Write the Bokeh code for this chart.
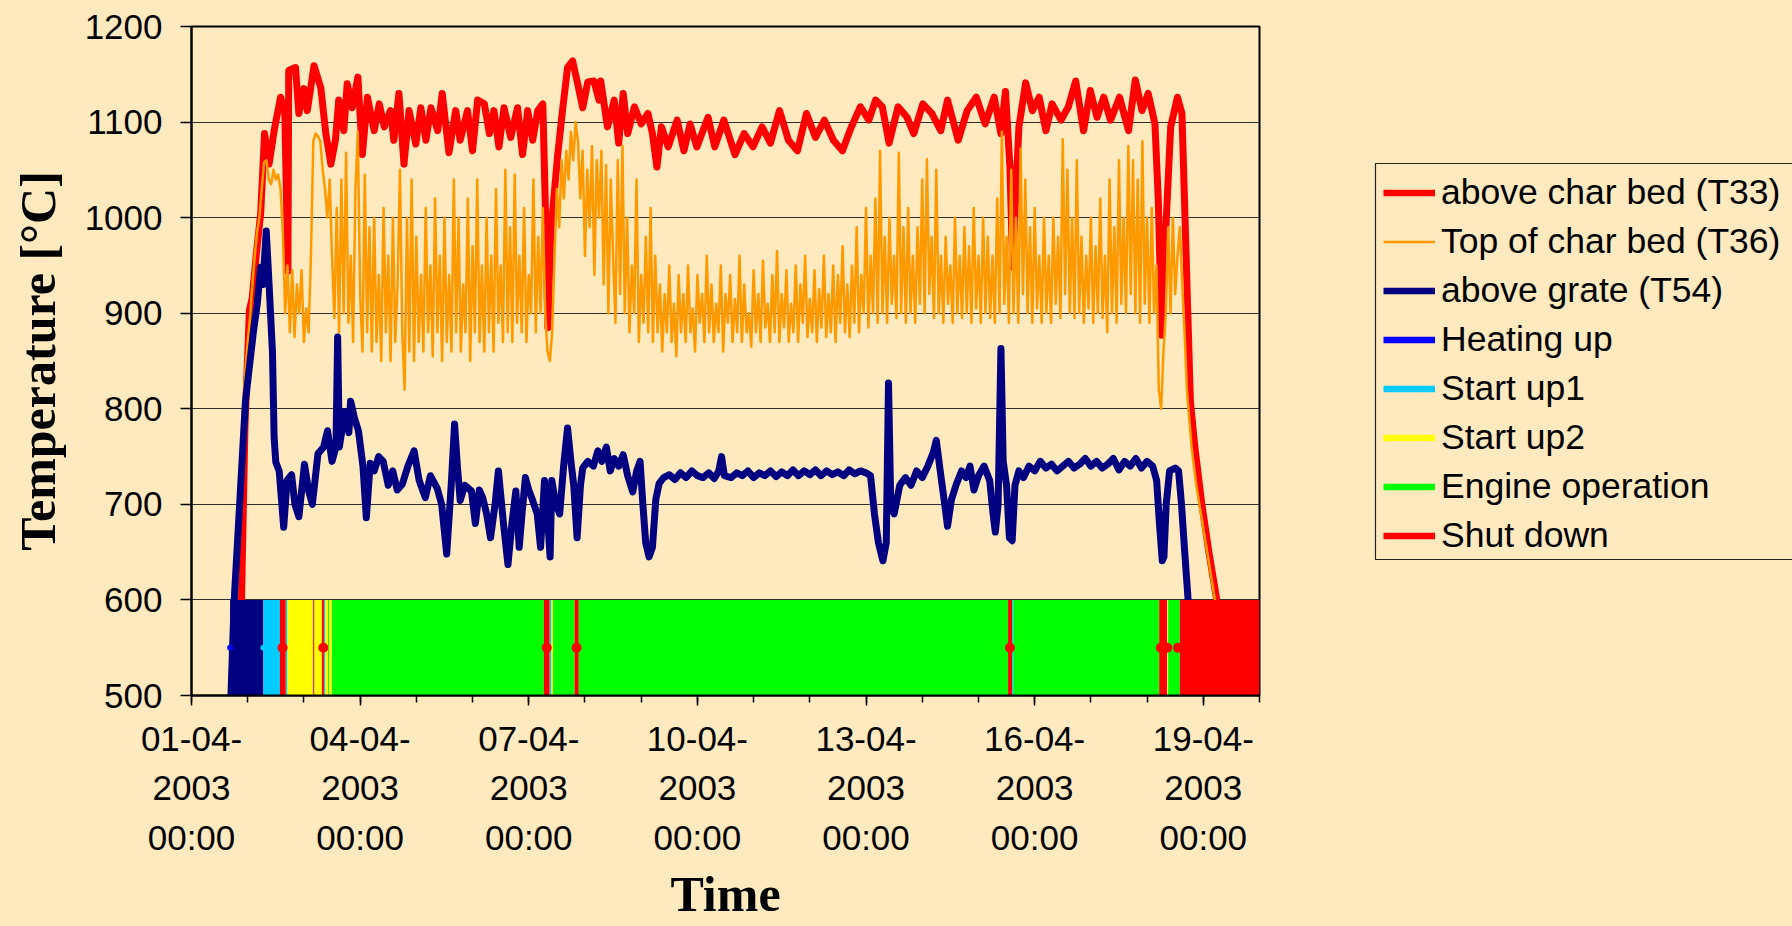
from bokeh.plotting import figure
from bokeh.layouts import row
from bokeh.models import FixedTicker, Legend, LegendItem, Range1d
from bokeh.embed import file_html
from bokeh.resources import INLINE

# ---------------- data (time in days after 01-04-2003 00:00) ----------------
T33_DAY = [0.69, 0.89, 0.95, 1.03, 1.08, 1.15, 1.23, 1.30, 1.38, 1.47, 1.585, 1.66, 1.70, 1.715, 1.73,
           1.85, 1.91, 2.0, 2.06, 2.18, 2.30, 2.39, 2.48, 2.56, 2.62, 2.71, 2.77, 2.86, 2.96, 3.04,
           3.13, 3.25, 3.34, 3.43, 3.54, 3.60, 3.69, 3.78, 3.87, 3.99, 4.08, 4.17, 4.26, 4.38, 4.46,
           4.58, 4.70, 4.78, 4.91, 5.0, 5.09, 5.21, 5.30, 5.38, 5.47, 5.56, 5.68, 5.80, 5.89, 5.98,
           6.07, 6.16, 6.25, 6.30, 6.34, 6.39, 6.51, 6.60, 6.69, 6.78, 6.87, 6.96, 7.05, 7.16, 7.25,
           7.28, 7.40, 7.52, 7.60, 7.68, 7.76, 7.88, 8.0, 8.12, 8.2, 8.28, 8.36, 8.48, 8.64, 8.76,
           8.87, 8.99, 9.19, 9.31, 9.47, 9.67, 9.83, 9.99, 10.15, 10.30, 10.46, 10.62, 10.78, 10.94,
           11.1, 11.26, 11.42, 11.58, 11.74, 11.9, 12.05, 12.17, 12.29, 12.41, 12.57, 12.73, 12.85,
           13.01, 13.17, 13.33, 13.45, 13.64, 13.80, 13.96, 14.12, 14.28, 14.40, 14.48, 14.56, 14.61,
           14.66, 14.72, 14.84, 14.96, 15.08, 15.2, 15.31, 15.47, 15.6, 15.73, 15.87, 15.99, 16.11,
           16.23, 16.35, 16.51, 16.67, 16.79, 16.91, 17.02, 17.14, 17.2, 17.26, 17.31, 17.42, 17.54,
           17.62, 17.70, 17.77, 17.85, 17.97, 18.1, 18.24, 18.5, 19.0]
T33_VAL = [470, 600, 780, 903, 916, 960, 1004, 1088, 1056, 1091, 1126, 1110, 990, 944, 1154,
           1157, 1109, 1135, 1112, 1159, 1136, 1088, 1056, 1081, 1123, 1091, 1140, 1115, 1147, 1066,
           1126, 1091, 1119, 1095, 1112, 1081, 1130, 1056, 1112, 1077, 1115, 1081, 1115, 1091, 1130,
           1068, 1112, 1081, 1112, 1070, 1123, 1119, 1088, 1112, 1074, 1115, 1084, 1115, 1066, 1112,
           1081, 1112, 1119, 1000, 885, 983, 1063, 1112, 1157, 1164, 1140, 1115, 1142, 1143, 1123,
           1143, 1095, 1123, 1078, 1130, 1088, 1116, 1098, 1109, 1088, 1053, 1095, 1074, 1102, 1070,
           1098, 1074, 1105, 1074, 1102, 1066, 1088, 1074, 1095, 1078, 1112, 1081, 1070, 1109,
           1084, 1102, 1081, 1070, 1095, 1116, 1102, 1123, 1116, 1078, 1116, 1105, 1088,
           1119, 1109, 1091, 1123, 1081, 1112, 1126, 1098, 1126, 1088, 1132, 1053, 948,
           1020, 1095, 1141, 1112, 1126, 1091, 1119, 1102, 1116, 1143, 1091, 1133, 1105,
           1126, 1102, 1126, 1091, 1144, 1112, 1130, 1098, 1018, 877, 960, 1095, 1126,
           1109, 950, 808, 760, 702, 650, 600, 545, 490]

# T36 logged hourly, first sample at day 0.75
T36_START_DAY = 0.75
T36_STEP_DAY = 1.0 / 24.0
T36_VAL = [
    540, 600, 670, 740, 800, 840, 870, 896, 930, 960, 985, 1000,
    1030, 1058, 1060, 1040, 1035, 1050, 1040, 1045, 1030, 985, 900, 950,
    880, 945, 875, 930, 900, 945, 870, 905, 880, 960, 1080, 1088,
    1085, 1080, 1050, 1030, 1000, 1040, 960, 895, 1010, 880, 1040, 900,
    1068, 890, 960, 870, 1030, 1090, 920, 860, 1045, 880, 990, 860,
    1000, 870, 940, 850, 1010, 880, 960, 850, 1000, 870, 930, 1050,
    880, 820, 1000, 860, 1040, 850, 980, 870, 940, 860, 1010, 880,
    950, 855, 1020, 880, 960, 850, 1000, 870, 940, 860, 1040, 880,
    1000, 860, 930, 880, 1020, 850, 970, 880, 1040, 870, 950, 860,
    1000, 880, 960, 860, 1030, 890, 950, 870, 1050, 880, 990, 870,
    1045, 890, 960, 880, 1010, 870, 940, 900, 1040, 880, 980, 900,
    1010, 900, 860, 850, 880, 960, 1030, 990, 1060, 1020, 1070, 1040,
    1090, 1060, 1100, 1080, 1020, 1070, 960, 1050, 990, 1075, 940, 1060,
    1000, 1070, 930, 1055, 900, 1040, 960, 890, 1060, 920, 1075, 900,
    1000, 880, 950, 900, 1040, 870, 940, 890, 980, 880, 1010, 870,
    960, 880, 930, 860, 920, 880, 950, 870, 910, 855, 940, 880,
    920, 870, 950, 880, 905, 860, 940, 890, 920, 870, 960, 880,
    930, 870, 910, 880, 950, 860, 920, 890, 940, 870, 915, 880,
    960, 870, 930, 880, 900, 865, 945, 880, 920, 870, 955, 885,
    910, 870, 940, 880, 965, 870, 920, 885, 945, 870, 910, 880,
    950, 870, 930, 890, 960, 875, 915, 880, 945, 870, 925, 885,
    960, 875, 920, 880, 950, 870, 940, 890, 970, 880, 930, 875,
    950, 890, 990, 880, 940, 900, 1010, 885, 960, 900, 1020, 890,
    1070, 900, 980, 890, 1000, 910, 960, 895, 1068, 900, 990, 890,
    1010, 900, 960, 890, 990, 910, 1040, 900, 1061, 920, 980, 895,
    1050, 900, 960, 890, 980, 910, 950, 890, 1000, 900, 960, 895,
    990, 900, 970, 890, 1010, 905, 960, 890, 1000, 900, 980, 895,
    960, 890, 1020, 900, 1090, 910, 980, 890, 1050, 900, 1000, 890,
    1072, 920, 1040, 900, 990, 890, 1010, 905, 960, 890, 1000, 900,
    960, 890, 1000, 910, 980, 895, 1082, 920, 1050, 900, 1000, 895,
    1060, 900, 980, 890, 960, 905, 1000, 890, 970, 900, 1020, 895,
    960, 880, 1040, 900, 990, 890, 1060, 910, 1000, 900, 1075, 920,
    1060, 900, 1040, 890, 1080, 910, 1000, 890, 1010, 900, 950, 820,
    800, 860, 900, 990, 900, 1000, 920, 960, 990, 930, 880, 820,
    790, 760, 740, 720, 705, 690, 675, 660, 645, 630, 615, 600,
    590, 580, 570, 562, 555, 548, 542, 536, 530, 525, 520, 515,
    510, 506, 503, 500, 497, 494, 492]

T54_DAY = [0.69, 0.76, 0.96, 1.10, 1.17, 1.23, 1.27, 1.33, 1.38, 1.44, 1.47, 1.50, 1.56, 1.64, 1.70,
           1.78, 1.84, 1.91, 2.01, 2.08, 2.15, 2.25, 2.35, 2.42, 2.50, 2.57, 2.60, 2.63, 2.73, 2.80,
           2.83, 2.90, 2.97, 3.05, 3.11, 3.18, 3.25, 3.33, 3.41, 3.50, 3.58, 3.66, 3.75, 3.85, 3.96,
           4.05, 4.16, 4.25, 4.37, 4.45, 4.54, 4.62, 4.68, 4.73, 4.78, 4.86, 4.98, 5.05, 5.12, 5.18,
           5.25, 5.32, 5.40, 5.46, 5.55, 5.63, 5.70, 5.77, 5.83, 5.88, 5.94, 6.00, 6.07, 6.15, 6.21,
           6.28, 6.33, 6.38, 6.41, 6.48, 6.55, 6.62, 6.69, 6.75, 6.80, 6.86, 6.92, 6.96, 7.05, 7.15,
           7.23, 7.30, 7.38, 7.45, 7.52, 7.60, 7.68, 7.76, 7.85, 7.92, 7.98, 8.03, 8.08, 8.14, 8.2,
           8.26, 8.32, 8.4, 8.5, 8.6, 8.7, 8.8, 8.9, 9.0, 9.1, 9.2, 9.3, 9.38, 9.43, 9.48, 9.6, 9.7,
           9.8, 9.9, 10.0, 10.1, 10.2, 10.3, 10.4, 10.5, 10.6, 10.7, 10.8, 10.9, 11.0, 11.1, 11.2,
           11.3, 11.4, 11.5, 11.6, 11.7, 11.8, 11.9, 12.0, 12.08, 12.15, 12.22, 12.3, 12.36, 12.4,
           12.44, 12.5, 12.6, 12.7, 12.8, 12.9, 13.0, 13.1, 13.2, 13.25, 13.32, 13.4, 13.45, 13.52,
           13.6, 13.7, 13.78, 13.85, 13.92, 14.0, 14.1, 14.2, 14.26, 14.3, 14.35, 14.4, 14.44, 14.5,
           14.55, 14.6, 14.65, 14.72, 14.8, 14.9, 15.0, 15.1, 15.2, 15.3, 15.4, 15.5, 15.6, 15.7,
           15.8, 15.9, 16.0, 16.1, 16.2, 16.3, 16.4, 16.5, 16.6, 16.7, 16.8, 16.9, 17.0, 17.1, 17.17,
           17.22, 17.27, 17.3, 17.34, 17.4, 17.5, 17.56, 17.61, 17.67, 17.73, 17.85, 18.0, 18.3,
           18.7, 19.0]
T54_VAL = [480, 600, 808, 880, 910, 948, 930, 986, 930, 860, 770, 744, 735, 676, 725,
           731, 700, 687, 742, 715, 700, 753, 760, 777, 745, 760, 875, 760, 797, 775,
           808, 790, 777, 740, 686, 743, 735, 750, 745, 720, 735, 715, 721, 740, 756,
           725, 707, 730, 717, 700, 648, 720, 784, 740, 704, 720, 714, 680, 715, 707,
           690, 665, 700, 735, 680, 637, 680, 714, 655, 690, 728, 715, 704, 690, 655,
           725, 690, 645, 725, 700, 690, 740, 780, 745, 720, 665, 720, 738, 745, 740,
           756, 745, 760, 735, 748, 740, 752, 730, 713, 735, 745, 700, 660, 645, 655,
           705, 722, 728, 731, 726, 733, 728, 735, 730, 728, 733, 727, 735, 750, 730, 728, 733,
           730, 735, 728, 733, 730, 735, 729, 734, 730, 736, 730, 735, 731, 736, 730,
           735, 731, 734, 730, 736, 732, 735, 733, 730, 690, 660, 641, 660, 827,
           700, 690, 720, 728, 720, 735, 728, 740, 755, 767, 735, 700, 677, 705,
           720, 735, 728, 740, 715, 730, 740, 725, 690, 671, 700, 863, 745, 720,
           665, 662, 720, 735, 728, 740, 735, 745, 738, 742, 735, 740, 745, 738,
           742, 748, 740, 745, 738, 742, 748, 736, 745, 740, 748, 738, 745, 740, 725,
           680, 641, 645, 700, 735, 738, 735, 702, 650, 600, 560, 530, 505,
           490, 480]

# operating phases: name, start day, end day
PHASE_NAME = ["Heating up", "Start up1", "Shut down", "Start up1", "Start up2", "Shut down",
              "Start up2", "Shut down", "Start up1", "Start up2", "Engine operation", "Start up2",
              "Engine operation", "Shut down", "Start up1", "Start up2", "Engine operation",
              "Shut down", "Engine operation", "Shut down", "Start up1", "Engine operation",
              "Shut down", "Start up2", "Engine operation", "Shut down"]
PHASE_START = [0.687, 1.279, 1.574, 1.678, 1.706, 2.164, 2.187, 2.319, 2.356, 2.38, 2.43, 2.45,
               2.497, 6.269, 6.372, 6.402, 6.432, 6.816, 6.89, 14.527, 14.598, 14.62, 17.216,
               17.358, 17.375, 17.582]
PHASE_END = [1.279, 1.574, 1.678, 1.706, 2.164, 2.187, 2.319, 2.356, 2.38, 2.43, 2.45, 2.497,
             6.269, 6.372, 6.402, 6.432, 6.816, 6.89, 14.527, 14.598, 14.62, 17.216, 17.358,
             17.375, 17.582, 19.0]
# phase-change markers
MARK_DAY = [0.687, 1.279, 1.62, 2.345, 6.32, 6.85, 14.56, 17.245, 17.358, 17.55]
MARK_PHASE = ["Heating up", "Start up1", "Shut down", "Shut down", "Shut down", "Shut down",
              "Shut down", "Shut down", "Shut down", "Shut down"]

SERIES_NAMES = ["above char bed (T33)", "Top of char bed (T36)", "above grate (T54)"]
PHASE_ORDER = ["Heating up", "Start up1", "Start up2", "Engine operation", "Shut down"]

X_TICK_DAYS = [0, 3, 6, 9, 12, 15, 18]
X_TICK_LABELS = ["01-04-\n2003\n00:00", "04-04-\n2003\n00:00", "07-04-\n2003\n00:00",
                 "10-04-\n2003\n00:00", "13-04-\n2003\n00:00", "16-04-\n2003\n00:00",
                 "19-04-\n2003\n00:00"]
X_MINOR_DAYS = list(range(0, 20))
Y_TICKS = [500, 600, 700, 800, 900, 1000, 1100, 1200]

# ---------------- styling ----------------
BG = "#FFE9BF"
SERIES_STYLE = [("#FF0000", 7), ("#FF9900", 2.5), ("#000080", 7)]
BAR_COLOR = {"Heating up": "#000080", "Start up1": "#00CCFF", "Start up2": "#FFFF00",
             "Engine operation": "#00FF00", "Shut down": "#FF0000"}
LEGEND_COLOR = {"Heating up": "#0000FF", "Start up1": "#00CCFF", "Start up2": "#FFFF00",
                "Engine operation": "#00FF00", "Shut down": "#FF0000"}
MARK_COLOR = {"Heating up": "#0000FF", "Start up1": "#00CCFF", "Shut down": "#FF0000"}
MARK_SIZE = {"Heating up": 6, "Start up1": 6, "Shut down": 10}
BAR_BOTTOM, BAR_TOP, MARK_LEVEL = 500, 600, 550

# ---------------- main chart ----------------
p = figure(width=1300, height=926, x_range=Range1d(0, 19), y_range=Range1d(500, 1200),
           output_backend="svg", toolbar_location=None, title=None,
           min_border_left=191, min_border_right=41, min_border_top=26, min_border_bottom=231)
p.border_fill_color = BG
p.background_fill_color = BG
p.outline_line_color = "black"
p.outline_line_width = 2

p.xgrid.visible = False
p.ygrid.grid_line_color = "#303030"
p.ygrid.grid_line_width = 1

xa = p.xaxis[0]
xa.ticker = FixedTicker(ticks=X_TICK_DAYS, minor_ticks=X_MINOR_DAYS)
xa.major_label_overrides = dict(zip(X_TICK_DAYS, X_TICK_LABELS))
xa.major_tick_out = 10
xa.major_tick_in = 0
xa.minor_tick_out = 7
xa.minor_tick_in = 0
xa.major_tick_line_width = 1.5
xa.minor_tick_line_width = 1.5
xa.axis_line_width = 2
xa.major_label_text_font = "Liberation Sans"
xa.major_label_text_font_size = "35px"
xa.major_label_text_line_height = 1.27
xa.major_label_standoff = 13
xa.major_label_text_color = "black"
xa.axis_label = "Time"
xa.axis_label_text_font = "Liberation Serif"
xa.axis_label_text_font_style = "bold"
xa.axis_label_text_font_size = "50px"
xa.axis_label_text_color = "black"
xa.axis_label_standoff = 6

ya = p.yaxis[0]
ya.ticker = FixedTicker(ticks=Y_TICKS)
ya.minor_tick_line_color = None
ya.major_tick_out = 11
ya.major_tick_in = 0
ya.major_tick_line_width = 1.5
ya.axis_line_width = 2
ya.major_label_text_font = "Liberation Sans"
ya.major_label_text_font_size = "35px"
ya.major_label_standoff = 18
ya.major_label_text_color = "black"
ya.axis_label = "Temperature [°C]"
ya.axis_label_text_font = "Liberation Serif"
ya.axis_label_text_font_style = "bold"
ya.axis_label_text_font_size = "50px"
ya.axis_label_text_color = "black"
ya.axis_label_standoff = 16

t36_day = [T36_START_DAY + i * T36_STEP_DAY for i in range(len(T36_VAL))]
for (xs, ys), (col, lw) in zip([(T33_DAY, T33_VAL), (t36_day, T36_VAL), (T54_DAY, T54_VAL)],
                               SERIES_STYLE):
    p.line(xs, ys, line_color=col, line_width=lw, line_join="round")

p.quad(left=PHASE_START, right=PHASE_END, bottom=BAR_BOTTOM, top=BAR_TOP,
       fill_color=[BAR_COLOR[n] for n in PHASE_NAME], line_color=None)
p.scatter(x=MARK_DAY, y=[MARK_LEVEL] * len(MARK_DAY),
          size=[MARK_SIZE[n] for n in MARK_PHASE],
          fill_color=[MARK_COLOR[n] for n in MARK_PHASE], line_color=None)

# ---------------- legend panel ----------------
# its plot frame is aligned with the chart frame (page rows 26..695); data units = page pixels
lg = figure(width=492, height=926, x_range=Range1d(1300, 1792), y_range=Range1d(695, 26),
            output_backend="svg", toolbar_location=None, title=None,
            x_axis_location=None, y_axis_location=None,
            min_border_left=0, min_border_right=0, min_border_top=26, min_border_bottom=231)
lg.border_fill_color = BG
lg.background_fill_color = BG
lg.outline_line_color = None
lg.grid.visible = False
lg.quad(left=1375, right=1800, top=163, bottom=559, fill_color=None,
        line_color="#222222", line_width=1.2)

nan = float("nan")
items = []
for name, (col, lw) in zip(SERIES_NAMES, SERIES_STYLE):
    rr = lg.line([nan], [nan], line_color=col, line_width=lw if lw < 5 else 6.5)
    items.append(LegendItem(label=name, renderers=[rr]))
for name in PHASE_ORDER:
    rr = lg.line([nan], [nan], line_color=LEGEND_COLOR[name], line_width=6.5)
    items.append(LegendItem(label=name, renderers=[rr]))
legend = Legend(items=items, location=(83, 135), padding=0, spacing=0, margin=0,
                glyph_width=52, glyph_height=49, label_height=49, label_standoff=6,
                label_text_font="Liberation Sans", label_text_font_size="35.5px",
                label_text_baseline="middle", label_text_color="black",
                border_line_color=None, background_fill_alpha=0)
lg.add_layout(legend, "center")

layout = row(p, lg, styles={"background-color": BG})
open("out.html", "w").write(file_html(layout, INLINE))
